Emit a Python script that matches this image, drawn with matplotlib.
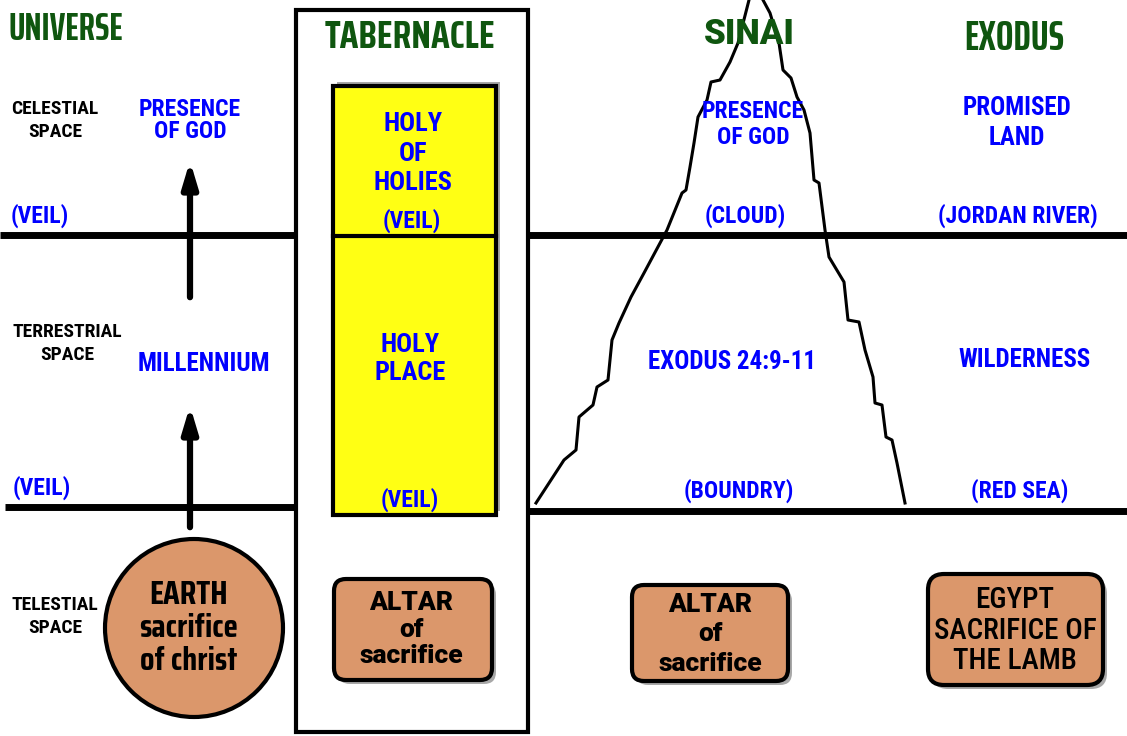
import matplotlib
matplotlib.use("Agg")
import matplotlib.pyplot as plt
from matplotlib.patches import Rectangle, Circle, FancyBboxPatch

W, H = 1127, 736
XCOND = ["Saira ExtraCondensed", "Roboto Condensed", "DejaVu Sans"]
COND = ["Saira Condensed", "Roboto Condensed", "DejaVu Sans"]
RCOND = ["Roboto Condensed", "DejaVu Sans"]
HEAVY = ["Roboto", "DejaVu Sans"]
GREEN = "#0f560f"
BLUE = "#0000ff"
TAN = "#db976b"
YELLOW = "#ffff14"
SHADOW = "#a8a8a8"

# column titles
headers = ["UNIVERSE", "TABERNACLE", "SINAI", "EXODUS"]
# left hand row names
space_labels = [["CELESTIAL", "SPACE"], ["TERRESTRIAL", "SPACE"], ["TELESTIAL", "SPACE"]]
# blue labels in each column
universe_labels = [["PRESENCE", "OF GOD"], ["(VEIL)"], ["MILLENNIUM"], ["(VEIL)"]]
tabernacle_labels = [["HOLY", "OF", "HOLIES"], ["(VEIL)"], ["HOLY", "PLACE"], ["(VEIL)"]]
sinai_labels = [["PRESENCE", "OF GOD"], ["(CLOUD)"], ["EXODUS 24:9-11"], ["(BOUNDRY)"]]
exodus_labels = [["PROMISED", "LAND"], ["(JORDAN RIVER)"], ["WILDERNESS"], ["(RED SEA)"]]
# bottom row shapes
earth_text = ["EARTH", "sacrifice", "of christ"]
altar_text = ["ALTAR", "of", "sacrifice"]
egypt_text = ["EGYPT", "SACRIFICE OF", "THE LAMB"]

# mountain outline (pixel positions)
mount_left_x = [536, 564, 576, 579, 593, 597, 608, 612, 619, 631, 644, 667, 682, 686, 690, 694, 698, 707, 711, 720, 730, 738, 749]
mount_left_y = [503, 460, 450, 417, 405, 387, 380, 340, 323, 297, 273, 230, 193, 190, 167, 143, 117, 100, 82, 80, 62, 43, 0]
mount_right_x = [763, 770, 779, 783, 791, 797, 804, 810, 814, 819, 825, 829, 844, 848, 859, 865, 873, 875, 882, 886, 892, 897, 905]
mount_right_y = [0, 13, 43, 70, 78, 97, 110, 133, 180, 183, 230, 257, 282, 320, 322, 350, 377, 403, 405, 437, 440, 463, 503]

fig = plt.figure(figsize=(W / 100, H / 100), dpi=100)
ax = fig.add_axes([0, 0, 1, 1])
ax.set_xlim(0, W)
ax.set_ylim(H, 0)
ax.axis("off")


def lines(x, ys, texts, color, size, fam=RCOND, weight="bold"):
    for y, s in zip(ys, texts):
        ax.text(x, y, s, color=color, fontsize=size, family=fam, weight=weight,
                ha="center", va="center", zorder=6)


def rbox(x0, y0, w, h, pad):
    ax.add_patch(FancyBboxPatch((x0 + 4, y0 + 4), w, h, boxstyle=f"round,pad={pad}",
                                fc=SHADOW, ec="none", zorder=2))
    ax.add_patch(FancyBboxPatch((x0, y0), w, h, boxstyle=f"round,pad={pad}",
                                fc=TAN, ec="black", lw=3, zorder=3))


# horizontal boundaries
ax.plot([0, 296], [235, 235], color="black", lw=5, solid_capstyle="butt")
ax.plot([528, W], [235, 235], color="black", lw=5, solid_capstyle="butt")
ax.plot([5, 296], [507, 507], color="black", lw=5, solid_capstyle="butt")
ax.plot([528, W], [511, 511], color="black", lw=5, solid_capstyle="butt")

# tabernacle box
ax.add_patch(Rectangle((296, 10), 232, 722, fill=False, ec="black", lw=3, zorder=3))
ax.add_patch(Rectangle((337, 82), 163, 429, fc=SHADOW, ec="none", zorder=3))
ax.add_patch(Rectangle((333, 86), 163, 429, fc=YELLOW, ec="black", lw=3, zorder=4))
ax.plot([333, 496], [236, 236], color="black", lw=3, zorder=5)

# mountain
ax.plot(mount_left_x, mount_left_y, color="black", lw=2.2, zorder=3)
ax.plot(mount_right_x, mount_right_y, color="black", lw=2.2, zorder=3)

# arrows in universe column
ax.annotate("", xy=(190, 158), xytext=(190, 300),
            arrowprops=dict(arrowstyle="-|>,head_width=0.45,head_length=1.5", color="black", lw=4.5))
ax.annotate("", xy=(190, 403), xytext=(190, 530),
            arrowprops=dict(arrowstyle="-|>,head_width=0.45,head_length=1.5", color="black", lw=4.5))

# titles
lines(66, [30], [headers[0]], GREEN, 28, fam=XCOND)
lines(410, [37], [headers[1]], GREEN, 27, fam=COND)
lines(749, [34], [headers[2]], GREEN, 25, fam=HEAVY, weight=900)
lines(1014, [38], [headers[3]], GREEN, 30, fam=XCOND)

# row names
lines(55, [109, 132], space_labels[0], "black", 14)
lines(67, [332, 355], space_labels[1], "black", 14)
lines(55, [605, 628], space_labels[2], "black", 14)

# universe column
lines(190, [109, 132], universe_labels[0], BLUE, 17)
lines(40, [216], universe_labels[1], BLUE, 17)
lines(204, [364], universe_labels[2], BLUE, 18)
lines(42, [488], universe_labels[3], BLUE, 17)

# tabernacle column
lines(413, [124, 154, 183], tabernacle_labels[0], BLUE, 19)
lines(412, [221], tabernacle_labels[1], BLUE, 17)
lines(410, [345, 373], tabernacle_labels[2], BLUE, 19)
lines(410, [500], tabernacle_labels[3], BLUE, 17)

# sinai column
lines(753, [112, 137], sinai_labels[0], BLUE, 17)
lines(745, [216], sinai_labels[1], BLUE, 17)
lines(732, [362], sinai_labels[2], BLUE, 18)
lines(739, [491], sinai_labels[3], BLUE, 17)

# exodus column
lines(1017, [108, 138], exodus_labels[0], BLUE, 18)
lines(1018, [216], exodus_labels[1], BLUE, 17)
lines(1025, [360], exodus_labels[2], BLUE, 18)
lines(1020, [491], exodus_labels[3], BLUE, 17)

# earth
ax.add_patch(Circle((194, 628), 89, fc=TAN, ec="black", lw=3, zorder=3))
lines(189, [595, 628, 661], earth_text, "black", 24, fam=COND)

# altars and egypt
rbox(346, 591, 134, 77, 12)
lines(411, [603, 630, 656], altar_text, "black", 19, fam=HEAVY, weight=900)
rbox(644, 597, 132, 72, 12)
lines(710, [605, 634, 664], altar_text, "black", 19, fam=HEAVY, weight=900)
rbox(944, 590, 143, 79, 16)
lines(1015, [600, 631, 661], egypt_text, "black", 21, weight=500)

fig.savefig("out.png", dpi=100)
